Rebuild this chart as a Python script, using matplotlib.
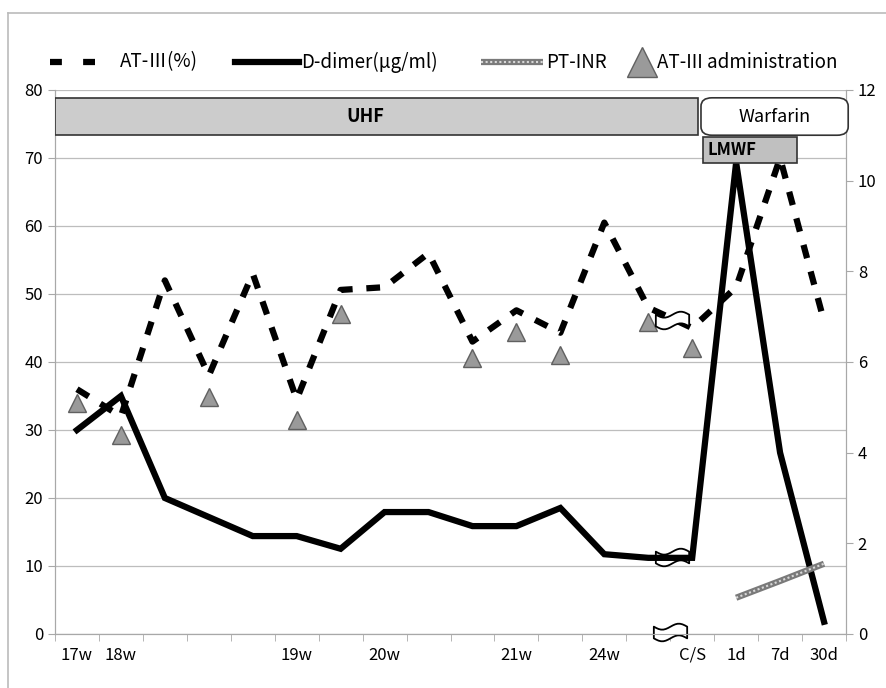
import numpy as np
import matplotlib
matplotlib.use("Agg")
import matplotlib.pyplot as plt
from matplotlib.patches import Rectangle, FancyBboxPatch
from matplotlib.path import Path
from matplotlib.lines import Line2D

plt.rcParams['font.family'] = ['Noto Sans CJK JP', 'DejaVu Sans']

# categories (blank ones are unlabeled sampling points)
labels = ["17w", "18w", "", "", "", "19w", "", "20w", "", "", "21w", "", "24w", "", "C/S", "1d", "7d", "30d"]

# AT-III (%) - left axis
at3 = [36, 32, 52, 38, 53, 34.5, 50.6, 51, 56, 43, 47.6, 44.3, 60.5, 48, 45, 51, 70, 46]
# D-dimer (ug/ml) - right axis
ddimer = [4.5, 5.25, 3.0, 2.58, 2.16, 2.16, 1.88, 2.69, 2.69, 2.38, 2.38, 2.78, 1.76, 1.68, 1.68, 10.4, 4.0, 0.27]
# PT-INR - right axis (only after delivery)
inr_idx = [15, 16, 17]
inr = [0.8, 1.17, 1.55]
# AT-III administration (marker positions, left axis)
adm_idx = [0, 1, 3, 5, 6, 9, 10, 11, 13, 14]
adm_val = [34, 29.3, 34.8, 31.5, 47, 40.6, 44.4, 41, 45.9, 42]

x = np.arange(len(labels))

fig = plt.figure(figsize=(8.86, 6.88), dpi=100)
ax = fig.add_axes([55/886, 1-634/688, (846-55)/886, (634-90)/688])
ax2 = ax.twinx()

grey = '#a8a8a8'
ax.set_xlim(-0.5, len(labels)-0.5)
ax.set_ylim(0, 80)
ax2.set_ylim(0, 12)
ax.set_yticks(range(0, 81, 10))
ax2.set_yticks(range(0, 13, 2))
ax.grid(axis='y', color='#bdbdbd', lw=0.9)
ax.set_axisbelow(True)

ax.set_xticks(x, labels)
ax.set_xticks(np.arange(-0.5, len(labels), 1), minor=True)
ax.tick_params(axis='x', which='major', length=0, pad=9, labelsize=12)
ax.tick_params(axis='x', which='minor', length=5, color=grey)
ax.tick_params(axis='y', length=5, color=grey, labelsize=12)
ax2.tick_params(axis='y', length=5, color=grey, labelsize=12)
for a in (ax, ax2):
    a.spines['top'].set_visible(False)
    for s in ('left', 'right', 'bottom'):
        a.spines[s].set_color(grey)

# lines
dash_style = dict(color='black', lw=4.5, ls=(0, (2.2, 2.2)), dash_capstyle='butt')
ax.plot(x, at3, zorder=3, **dash_style)
ax2.plot(x, ddimer, color='black', lw=4.5, solid_joinstyle='miter', zorder=3)
inr_base = dict(color='#7a7a7a', lw=4.5, solid_capstyle='butt')
inr_top = dict(color='#d8d8d8', lw=1.5, ls=(0, (1, 1.2)))
ax2.plot(inr_idx, inr, zorder=3, **inr_base)
ax2.plot(inr_idx, inr, zorder=3, **inr_top)
tri = dict(ls='none', marker='^', ms=13, mfc='#9a9a9a', mec='#606060', mew=1)
ax.plot(adm_idx, adm_val, zorder=4, **tri)

# treatment bars
ax2.add_patch(Rectangle((-0.5, 73.4), 14.64, 5.4, transform=ax.transData,
                        fc='#cccccc', ec='#333333', lw=1.2, zorder=6))
ax2.text(6.57, 76.1, 'UHF', transform=ax.transData, ha='center', va='center',
         fontsize=13, fontweight='bold', zorder=7)
ax2.add_patch(FancyBboxPatch((14.25, 73.6), 3.25, 5.0, boxstyle='round,pad=0.05,rounding_size=0.25',
                             mutation_aspect=5, transform=ax.transData, fc='white',
                             ec='#333333', lw=1.2, zorder=6, clip_on=False))
ax2.text(15.87, 76.1, 'Warfarin', transform=ax.transData, ha='center', va='center',
         fontsize=13, zorder=7, clip_on=False)
ax2.add_patch(Rectangle((14.25, 69.3), 2.14, 3.8, transform=ax.transData,
                        fc='#c0c0c0', ec='#333333', lw=1.2, zorder=6))
ax2.text(14.35, 71.2, 'LMWF', transform=ax.transData, ha='left', va='center',
         fontsize=12, fontweight='bold', zorder=7)

# wavy break marks
t = np.linspace(-1, 1, 15)
top = np.column_stack([t, 0.35 + 0.18*np.sin(np.pi*t)])
bot = np.column_stack([t[::-1], -0.35 + 0.18*np.sin(np.pi*t[::-1])])
verts = np.vstack([top, bot, top[:1]])
flag = Path(verts, [Path.MOVETO] + [Path.LINETO]*(len(verts)-2) + [Path.CLOSEPOLY])
ax.plot([13.55, 13.55, 13.5], [46.2, 11.3, 0.3], ls='none', marker=flag, ms=24,
        mfc='white', mec='black', mew=1.3, zorder=5, clip_on=False)

# legend row drawn by hand (pixel positions across the top)
W, H = 886, 688
ly = 1 - 62/H
def px(v):
    return v / W

fig.add_artist(Line2D([px(50), px(96)], [ly, ly], color='black', lw=4.5,
                      ls=(0, (1.9, 3.4)), dash_capstyle='butt'))
fig.text(px(120), ly, 'AT-Ⅲ(%)', va='center', fontsize=13.5)
fig.add_artist(Line2D([px(235), px(299)], [ly, ly], color='black', lw=4.5))
fig.text(px(301), ly, 'D-dimer(μg/ml)', va='center', fontsize=13.5)
fig.add_artist(Line2D([px(481), px(543)], [ly, ly], **inr_base))
fig.add_artist(Line2D([px(481), px(543)], [ly, ly], **inr_top))
fig.text(px(546), ly, 'PT-INR', va='center', fontsize=13.5)
fig.add_artist(Line2D([px(642)], [ly], ms=22, **{k: v for k, v in tri.items() if k != 'ms'}))
fig.text(px(657), ly, 'AT-III administration', va='center', fontsize=13.5)

# outer frame
fig.add_artist(Line2D([8/W, 8/W], [0, 1-13/H], color='#bbbbbb', lw=1.2))
fig.add_artist(Line2D([8/W, 1], [1-13/H, 1-13/H], color='#bbbbbb', lw=1.2))

fig.savefig('out.png', dpi=100)
